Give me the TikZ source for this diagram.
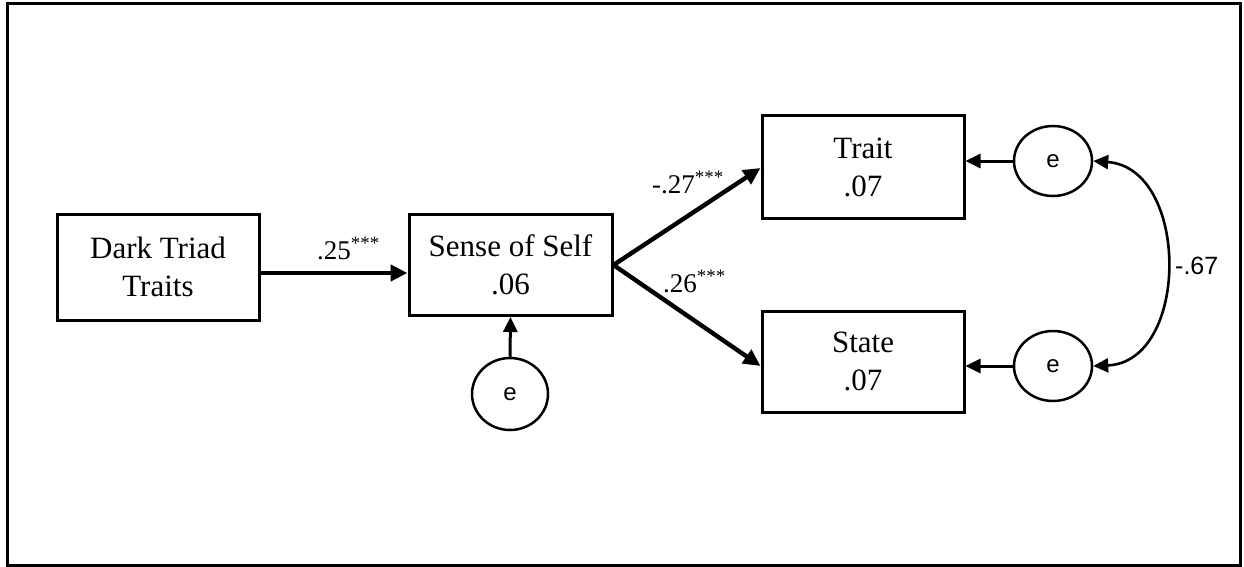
\documentclass[tikz,border=0pt]{standalone}
\usepackage{fontspec}
\setmainfont{Liberation Serif}
\newfontfamily\arialf{Liberation Sans}
\usetikzlibrary{arrows.meta,shapes.geometric}
\begin{document}
\begin{tikzpicture}[x=1pt,y=-1pt,
  boxnode/.style={draw, line width=3pt, inner sep=0pt, align=center, font=\fontsize{31}{38}\selectfont},
  errnode/.style={draw, ellipse, line width=2.5pt, inner sep=0pt, font=\arialf\fontsize{24}{28}\selectfont},
  patharrow/.style={line width=4.4pt, -{Triangle[length=17pt,width=16pt]}},
  errarrow/.style={line width=3pt, -{Triangle[length=15pt,width=14pt]}},
  coefflabel/.style={font=\fontsize{27}{32}\selectfont, inner sep=0pt, anchor=base west}]
\useasboundingbox (0,0) rectangle (1244,567);
\draw[line width=3pt] (7,4) rectangle (1240,565);
\node[boxnode, minimum width=202pt, minimum height=106pt] (DT) at (158,267) {Dark Triad\\Traits};
\node[boxnode, minimum width=203pt, minimum height=101pt] (SS) at (510.5,265) {Sense of Self\\.06};
\node[boxnode, minimum width=202pt, minimum height=102pt] (TR) at (863,167) {Trait\\.07};
\node[boxnode, minimum width=202pt, minimum height=101pt] (ST) at (863,361.5) {State\\.07};
\node[errnode, minimum width=78pt, minimum height=70pt] (eT) at (1053,161) {e};
\node[errnode, minimum width=78pt, minimum height=70pt] (eS) at (1053,366) {e};
\node[errnode, minimum width=76pt, minimum height=72pt] (eSS) at (510,394) {e};
\coordinate (yA) at (0,273);
\coordinate (yB) at (0,168);
\coordinate (yC) at (0,366);
\draw[patharrow] (DT.east |- yA) -- (SS.west |- yA);
\draw[patharrow] (SS.east) -- (TR.west |- yB);
\draw[patharrow] (SS.east) -- (ST.west |- yC);
\draw[errarrow] (eSS.north) -- (SS.south);
\draw[errarrow] (eT.west) -- (TR.east |- eT.west);
\draw[errarrow] (eS.west) -- (ST.east |- eS.west);
\draw[line width=2.6pt, {Triangle[length=15pt,width=14pt]}-{Triangle[length=15pt,width=14pt]}] (eT.east) .. controls (1190,168) and (1190,362) .. (eS.east);
\node[coefflabel] (l1) at (317,259) {.25\textsuperscript{***}};
\node[coefflabel] (l2) at (652,193) {-.27\textsuperscript{***}};
\node[coefflabel] (l3) at (663,292) {.26\textsuperscript{***}};
\node[coefflabel, font=\arialf\fontsize{25}{30}\selectfont] (l4) at (1175,274) {-.67};
\end{tikzpicture}
\end{document}
